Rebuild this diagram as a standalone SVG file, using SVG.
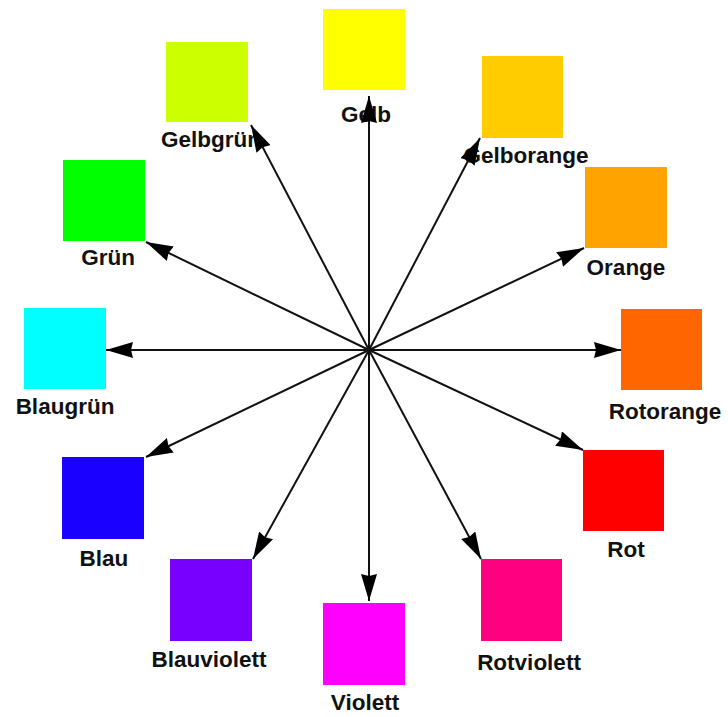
<svg xmlns="http://www.w3.org/2000/svg" width="728" height="717" viewBox="0 0 728 717">
<style>
.lbl{font-family:"Liberation Sans",Arial,sans-serif;font-weight:bold;font-size:22.5px;fill:#111;text-anchor:middle}
.ax{stroke:#111;stroke-width:2;fill:none;marker-end:url(#ah)}
</style>
<defs>
<marker id="ah" viewBox="0 0 27 16" refX="27" refY="8" markerWidth="27" markerHeight="16" markerUnits="userSpaceOnUse" orient="auto">
<path d="M0,0 L27,8 L0,16 L2,8 Z" fill="#000"/>
</marker>
</defs>
<rect width="728" height="717" fill="#fff"/>
<g id="nodes">
<g id="gelb"><rect x="323" y="9" width="82" height="81" fill="#ffff00"/><text class="lbl" x="366" y="122">Gelb</text></g>
<g id="gelbgruen"><rect x="166" y="42" width="82" height="80" fill="#ccff00"/><text class="lbl" x="211" y="147">Gelbgrün</text></g>
<g id="gelborange"><rect x="482" y="56" width="81" height="82" fill="#ffcc00"/><text class="lbl" x="526" y="163">Gelborange</text></g>
<g id="orange"><rect x="585" y="167" width="82" height="81" fill="#ffa300"/><text class="lbl" x="626" y="275">Orange</text></g>
<g id="rotorange"><rect x="621" y="309" width="81" height="81" fill="#ff6600"/><text class="lbl" x="665" y="419">Rotorange</text></g>
<g id="rot"><rect x="583" y="450" width="81" height="81" fill="#ff0000"/><text class="lbl" x="626" y="557">Rot</text></g>
<g id="rotviolett"><rect x="481" y="559" width="81" height="82" fill="#ff0080"/><text class="lbl" x="529" y="670">Rotviolett</text></g>
<g id="violett"><rect x="323" y="603" width="82" height="82" fill="#ff00ff"/><text class="lbl" x="365" y="710">Violett</text></g>
<g id="blauviolett"><rect x="170" y="559" width="82" height="82" fill="#7700ff"/><text class="lbl" x="209" y="667">Blauviolett</text></g>
<g id="blau"><rect x="62" y="457" width="82" height="82" fill="#1a00ff"/><text class="lbl" x="104" y="566">Blau</text></g>
<g id="blaugruen"><rect x="24" y="308" width="82" height="81" fill="#00ffff"/><text class="lbl" x="65" y="414">Blaugrün</text></g>
<g id="gruen"><rect x="63" y="160" width="82" height="81" fill="#00ff00"/><text class="lbl" x="108" y="265">Grün</text></g>
</g>
<g id="connectors">
<line class="ax" x1="369" y1="350" x2="369" y2="96"/>
<line class="ax" x1="369" y1="350" x2="251" y2="125"/>
<line class="ax" x1="369" y1="350" x2="480" y2="138"/>
<line class="ax" x1="369" y1="350" x2="584" y2="248"/>
<line class="ax" x1="369" y1="350" x2="621" y2="350"/>
<line class="ax" x1="369" y1="350" x2="583" y2="450"/>
<line class="ax" x1="369" y1="350" x2="481" y2="559"/>
<line class="ax" x1="369" y1="350" x2="369" y2="601"/>
<line class="ax" x1="369" y1="350" x2="253" y2="559"/>
<line class="ax" x1="369" y1="350" x2="146" y2="457"/>
<line class="ax" x1="369" y1="350" x2="106" y2="350"/>
<line class="ax" x1="369" y1="350" x2="146" y2="242"/>
</g>
</svg>
